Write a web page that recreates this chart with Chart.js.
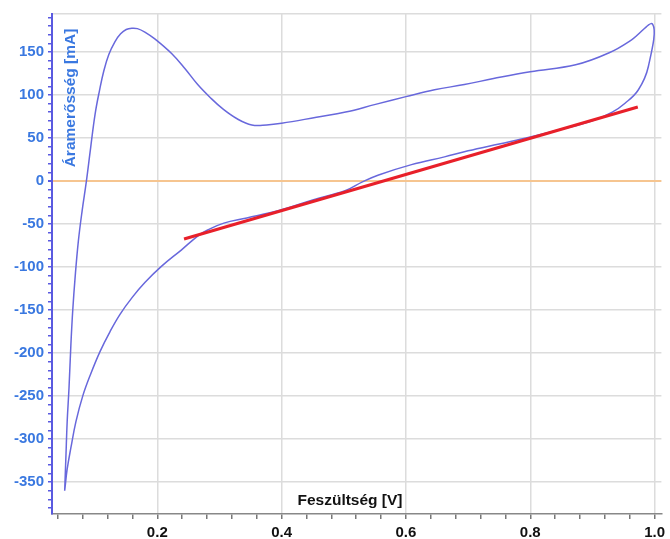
<!DOCTYPE html>
<html>
<head>
<meta charset="utf-8">
<script src="https://cdn.jsdelivr.net/npm/chart.js@4/dist/chart.umd.min.js"></script>
<style>
html,body{margin:0;padding:0;background:#fff;}
#wrap{position:relative;width:670px;height:539px;}
</style>
</head>
<body>
<div id="wrap"><canvas id="c" width="670" height="539"></canvas></div>
<script>
// ---- data ----
const cycleV = [
  0.051, 0.053, 0.055, 0.058, 0.061, 0.064, 0.068, 0.073, 0.079, 0.086,
  0.093, 0.100, 0.107, 0.114, 0.122, 0.132, 0.141, 0.150, 0.159, 0.168,
  0.180, 0.196, 0.223, 0.244, 0.265, 0.285, 0.305, 0.329, 0.352, 0.376,
  0.400, 0.456, 0.503, 0.551, 0.600, 0.646, 0.694, 0.741, 0.800, 0.873,
  0.927, 0.963, 0.997,
  0.990, 0.974, 0.952, 0.932, 0.900, 0.850, 0.800, 0.750, 0.700, 0.662,
  0.609, 0.556, 0.530, 0.503, 0.450, 0.397, 0.344, 0.307, 0.281, 0.265,
  0.239, 0.207, 0.180, 0.160, 0.140, 0.124, 0.108, 0.093, 0.080, 0.069,
  0.061, 0.055, 0.051
];
const cycleI = [
  -360, -320, -280, -240, -190, -150, -110, -70, -35, 0,
  40, 78, 105, 128, 147, 162, 171, 176, 177.5, 177,
  173, 165, 148, 131, 112, 97, 84, 72, 65, 65,
  67, 74, 80, 89, 98, 106, 112, 119, 127, 135,
  149, 164, 182,
  133, 106, 90, 80, 70, 60, 51, 43, 35, 28,
  19, 7, -1, -11, -22, -34, -43, -49, -57, -64,
  -80, -99, -118, -135, -155, -175, -198, -224, -250, -280,
  -310, -335, -360
];
const fitV = [0.243, 0.973];
const fitI = [-67.5, 86];
const zeroLevel = 0;
const xMajorTicks = [0.2, 0.4, 0.6, 0.8, 1.0];
const yMajorTicks = [-350, -300, -250, -200, -150, -100, -50, 0, 50, 100, 150];
const xTitle = 'Feszültség [V]';
const yTitle = 'Áramerősség [mA]';

// ---- build ----
const cyclePts = cycleV.map((v, i) => ({x: v, y: cycleI[i]}));
const fitPts = fitV.map((v, i) => ({x: v, y: fitI[i]}));

const X_MIN = 0.0306, X_MAX = 1.011;
const Y_MIN = -387, Y_MAX = 194;
const FONT = '"Liberation Sans", Arial, sans-serif';
const BLUE_TXT = '#3a78e0';
const AXIS_BLUE = '#5a5ae0';

const isXMajor = v => xMajorTicks.some(t => Math.abs(t - v) < 1e-6);
const isYMajor = v => yMajorTicks.some(t => Math.abs(t - v) < 1e-6);

const titlesPlugin = {
  id: 'titles',
  afterDraw(chart) {
    const ctx = chart.ctx;
    const ca = chart.chartArea;
    ctx.save();
    ctx.font = 'bold 15.5px ' + FONT;
    ctx.fillStyle = '#111';
    ctx.textAlign = 'center';
    ctx.textBaseline = 'alphabetic';
    ctx.fillText(xTitle, 350, ca.bottom - 9);
    ctx.restore();
    ctx.save();
    ctx.font = 'bold 15.5px ' + FONT;
    ctx.fillStyle = BLUE_TXT;
    ctx.translate(75, 98);
    ctx.rotate(-Math.PI / 2);
    ctx.textAlign = 'center';
    ctx.textBaseline = 'alphabetic';
    ctx.fillText(yTitle, 0, 0);
    ctx.restore();
  }
};

new Chart(document.getElementById('c'), {
  type: 'scatter',
  data: {
    datasets: [
      {
        data: fitPts, showLine: true, borderColor: '#e8202a', borderWidth: 3,
        pointRadius: 0, tension: 0, order: 0
      },
      {
        data: cyclePts, showLine: true, borderColor: '#6868dc', borderWidth: 1.5,
        pointRadius: 0, tension: 0.4, order: 1
      }
    ]
  },
  options: {
    responsive: false,
    devicePixelRatio: 1,
    animation: false,
    layout: {padding: {top: 14, right: 0, left: 0, bottom: 0}},
    plugins: {legend: {display: false}, tooltip: {enabled: false}},
    scales: {
      x: {
        type: 'linear', min: X_MIN, max: X_MAX,
        afterBuildTicks(s) {
          const t = [];
          for (let k = 1; k <= 25; k++) t.push({value: Math.round(k * 4) / 100});
          s.ticks = t;
        },
        afterFit(s) { s.height = 25; },
        ticks: {
          autoSkip: false, maxRotation: 0, padding: 5,
          color: '#111', font: {family: FONT, size: 15, weight: 'bold'},
          callback: v => isXMajor(v) ? v.toFixed(1) : ''
        },
        grid: {
          color: c => (c.tick && isXMajor(c.tick.value)) ? '#dcdcdc' : 'rgba(0,0,0,0)',
          lineWidth: 1.5, tickColor: '#777', tickLength: 5, drawTicks: true
        },
        border: {color: '#888', width: 1.5}
      },
      y: {
        type: 'linear', min: Y_MIN, max: Y_MAX,
        afterBuildTicks(s) {
          const t = [];
          for (let v = -380; v <= 190; v += 10) t.push({value: v});
          t.push({value: Y_MAX});
          s.ticks = t;
        },
        afterFit(s) { s.width = 52; },
        ticks: {
          autoSkip: false, padding: 4,
          color: BLUE_TXT, font: {family: FONT, size: 15, weight: 'bold'},
          callback: v => isYMajor(v) ? String(v) : ''
        },
        grid: {
          color: c => {
            if (!c.tick) return 'rgba(0,0,0,0)';
            const v = c.tick.value;
            if (Math.abs(v - zeroLevel) < 1e-6) return '#f6c590';
            if (v === Y_MAX) return '#dcdcdc';
            return isYMajor(v) ? '#dcdcdc' : 'rgba(0,0,0,0)';
          },
          lineWidth: c => (c.tick && Math.abs(c.tick.value - zeroLevel) < 1e-6) ? 2 : 1.5,
          tickColor: c => (c.tick && c.tick.value === Y_MAX) ? 'rgba(0,0,0,0)' : AXIS_BLUE,
          tickLength: 4, drawTicks: true
        },
        border: {color: AXIS_BLUE, width: 2}
      }
    }
  },
  plugins: [titlesPlugin]
});
</script>
</body>
</html>
